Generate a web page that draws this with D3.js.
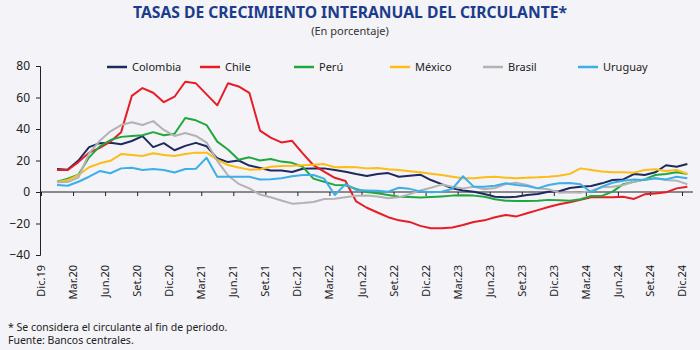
<!DOCTYPE html>
<html>
<head>
<meta charset="utf-8">
<script src="https://cdn.jsdelivr.net/npm/d3@7"></script>
<style>
  body { margin: 0; background: #f3f3f8; }
  svg { display: block; font-family: "Noto Sans", "Open Sans", sans-serif; }
</style>
</head>
<body>
<svg id="chart" width="700" height="350"></svg>
<script>
// monthly values, Ene.20 .. Dic.24 (60 points each)
const colombia = [14.6, 14.2, 20, 28.5, 31, 31.2, 30.3, 32.4, 35.5, 28.5, 31, 26.5,
  29.3, 31.2, 29, 21.4, 19, 20, 16.8, 15.3, 13.7, 13.6, 12.7, 14.8,
  15, 15, 14, 12.9, 11.4, 10.2, 11.4, 12, 9.7, 10.3, 11, 7.6,
  5, 2.3, 0.9, 0.2, -1.3, -3, -3.4, -3, -1.9, -1.3, 0.2, 0.5,
  2.5, 3.4, 3.8, 5.5, 7.6, 8, 11.4, 10.8, 12.5, 17, 16, 17.8]
const chile = [14, 14, 19, 25, 28, 32, 38, 61, 66, 63, 57, 60.5,
  70, 69, 62, 55, 69, 67, 63, 39, 34.5, 31.5, 32.5, 24.5,
  17, 13, 9, 7, -6, -10, -13, -16, -18, -19, -21.5, -23,
  -23, -22.5, -21, -19, -18, -16, -14.6, -15.5, -13.5, -11.5, -9.5, -7.8,
  -6.5, -5, -3.4, -3.4, -3.4, -3, -4.4, -1.5, -1, -0.2, 2.3, 3.4]
const peru = [6.5, 8.5, 11, 22, 29, 33, 35, 35.5, 36, 38, 36, 37,
  47, 45.5, 42.5, 32, 27, 20.5, 22, 20, 21, 19.3, 18.5, 16,
  8.5, 6.5, 4.5, 4.3, 2, 0, -0.8, -1.9, -3, -3.2, -3.5, -3.2,
  -2.8, -2.3, -2, -2.3, -3, -4.6, -5.5, -5.7, -5.7, -5.5, -5, -5.2,
  -5.5, -4.6, -2.5, -2.5, 0.2, 5, 6.5, 8, 10.8, 11.4, 12.5, 11.5]
const mexico = [6.3, 7.6, 10.8, 15.7, 18.2, 19.8, 24.1, 23.5, 22.9, 24.6, 23.5, 22.9,
  24.1, 25, 25, 20.5, 17.1, 15.5, 14.2, 14.3, 16, 16.5, 16.6, 17,
  17.3, 17.7, 15.7, 15.8, 15.7, 15, 15.2, 14.5, 14, 13.2, 12.5, 11.6,
  10.8, 9.7, 8.7, 8.8, 9.3, 9.7, 9.1, 8.8, 9.1, 9.3, 9.7, 10.3,
  11.5, 15, 14, 13, 12.5, 12.5, 12.3, 14, 14.4, 13.3, 14, 11.4]
const brasil = [6.2, 6.3, 9.2, 24.5, 32.5, 38.5, 42.5, 44.3, 42.5, 45, 39.4, 35.6,
  37.5, 35.6, 31.4, 19.8, 10.5, 5.2, 2.3, -1.6, -3.3, -5.4, -7.4, -7,
  -6.4, -4.5, -4.3, -3.4, -2.4, -2.2, -2.8, -4, -3.3, -1.4, 1, 2.7,
  4.7, 3.4, 2.3, 3.4, 1.7, 2.5, 5, 5.9, 4.4, 2.3, 1.7, -0.4,
  -0.2, -0.4, 0.8, 3, 3.4, 4.4, 6.5, 8, 8.7, 7.6, 7.2, 4.9]
const uruguay = [4.4, 4, 6.5, 9.7, 13.3, 11.9, 15, 15.4, 14, 14.6, 14, 12.4,
  14.6, 14.8, 21.8, 9.7, 9.7, 9.7, 9.7, 7.9, 8.1, 8.7, 10, 10.8,
  10.8, 8.5, -1.9, 5, 1.3, 1, 0.8, 0.2, 2.7, 2, 0.4, -0.2,
  0.2, 2, 10, 3.4, 3.4, 4, 5.5, 4.4, 3.8, 2.3, 4.4, 5.5,
  5.7, 4.9, -0.2, 3.4, 5.9, 7.2, 8, 7.6, 8.7, 8, 9.7, 8.7]

const seriesNames = ['Colombia', 'Chile', 'Perú', 'México', 'Brasil', 'Uruguay']
const seriesValues = [colombia, chile, peru, mexico, brasil, uruguay]
const colors = ['#1e2a5e', '#e81c24', '#20a83c', '#fdbd14', '#b3b3b3', '#3caee8']

const tickLabels = ['Dic.19', 'Mar.20', 'Jun.20', 'Set.20', 'Dic.20', 'Mar.21', 'Jun.21',
  'Set.21', 'Dic.21', 'Mar.22', 'Jun.22', 'Set.22', 'Dic.22', 'Mar.23', 'Jun.23',
  'Set.23', 'Dic.23', 'Mar.24', 'Jun.24', 'Set.24', 'Dic.24']
const yTicks = [-40, -20, 0, 20, 40, 60, 80]

const svg = d3.select('#chart')

// month index: Dic.19 = 0 ... Dic.24 = 60, points sit mid-month
const xScale = d3.scaleLinear().domain([0, 60]).range([41, 682])
const yScale = d3.scaleLinear().domain([-40, 80]).range([255, 66])

svg.append('text')
  .attr('x', 350).attr('y', 18)
  .attr('text-anchor', 'middle')
  .attr('textLength', 434)
  .attr('lengthAdjust', 'spacingAndGlyphs')
  .style('font-family', '"Noto Sans", sans-serif')
  .style('font-weight', 'bold')
  .style('font-size', '15.5px')
  .attr('fill', '#1b3c8c')
  .text('TASAS DE CRECIMIENTO INTERANUAL DEL CIRCULANTE*')

svg.append('text')
  .attr('x', 350).attr('y', 35)
  .attr('text-anchor', 'middle')
  .style('font-size', '11px')
  .attr('fill', '#333')
  .text('(En porcentaje)')

// y axis
const yAxis = svg.append('g')
  .attr('transform', 'translate(40,0)')
  .call(d3.axisLeft(yScale).tickValues(yTicks).tickSize(4).tickPadding(6))
yAxis.select('.domain').attr('stroke', '#222')
yAxis.selectAll('line').attr('stroke', '#222')
yAxis.selectAll('text').style('font-size', '12px').attr('fill', '#222')
  .style('font-family', '"Noto Sans", sans-serif')

// x axis at zero
const xAxis = svg.append('g')
  .attr('transform', `translate(0,${yScale(0)})`)
  .call(d3.axisBottom(xScale)
    .tickValues(d3.range(0, 61, 3))
    .tickSize(4)
    .tickFormat(''))
xAxis.select('.domain').remove()
xAxis.selectAll('line').attr('stroke', '#222')
xAxis.append('line')
  .attr('x1', 40).attr('x2', 693)
  .attr('stroke', '#222')

svg.append('g')
  .selectAll('text')
  .data(tickLabels)
  .join('text')
  .attr('transform', (d, i) => `translate(${xScale(i * 3) + 4},265) rotate(-90)`)
  .attr('text-anchor', 'end')
  .style('font-size', '11px')
  .attr('fill', '#222')
  .text(d => d)

const line = d3.line()
  .x((d, i) => xScale(i + 1.5))
  .y(d => yScale(d))

svg.append('g')
  .selectAll('path')
  .data(seriesValues)
  .join('path')
  .attr('fill', 'none')
  .attr('stroke', (d, i) => colors[i])
  .attr('stroke-width', 2)
  .attr('stroke-linejoin', 'round')
  .attr('d', d => line(d))

// legend
const legendX = [107, 200, 294, 390, 483, 578]
const legend = svg.append('g')
  .selectAll('g')
  .data(seriesNames)
  .join('g')
  .attr('transform', (d, i) => `translate(${legendX[i]},67)`)
legend.append('line')
  .attr('x1', 0).attr('x2', 20)
  .attr('stroke', (d, i) => colors[i])
  .attr('stroke-width', 2.5)
legend.append('text')
  .attr('x', 25).attr('y', 4)
  .style('font-size', '11px')
  .attr('fill', '#222')
  .text(d => d)

svg.append('text')
  .attr('x', 8).attr('y', 331)
  .style('font-size', '10.5px')
  .attr('fill', '#222')
  .text('* Se considera el circulante al fin de periodo.')
svg.append('text')
  .attr('x', 8).attr('y', 344)
  .style('font-size', '10.5px')
  .attr('fill', '#222')
  .text('Fuente: Bancos centrales.')
</script>
</body>
</html>
